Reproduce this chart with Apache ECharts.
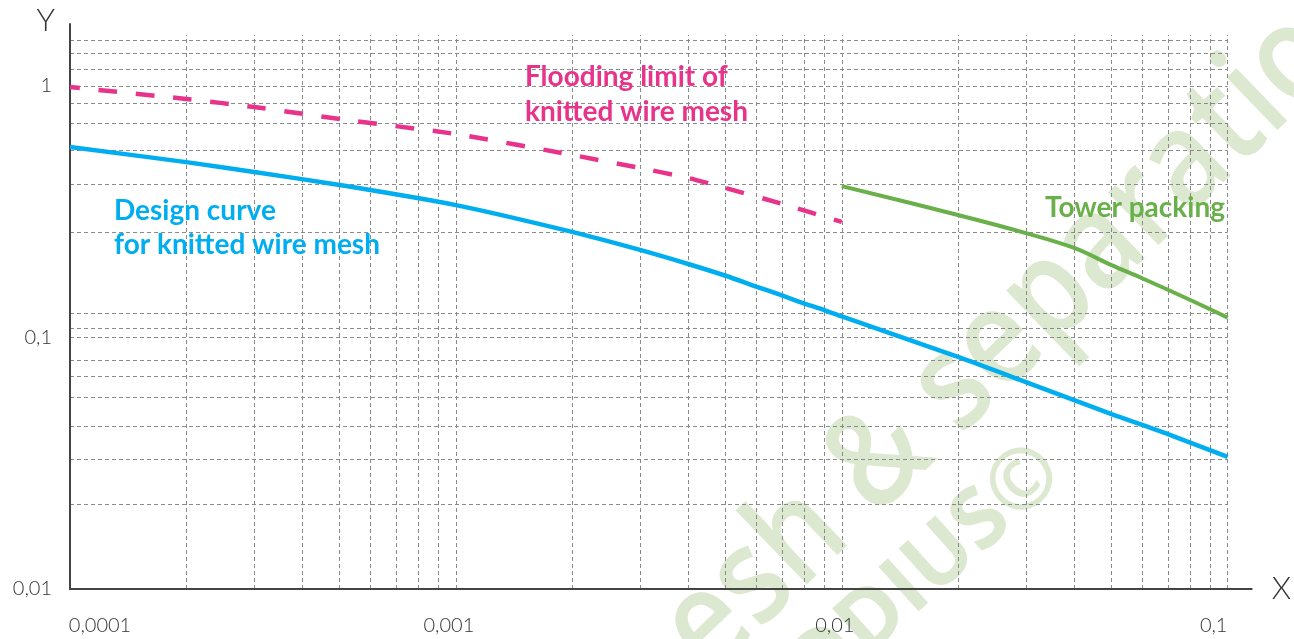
<!DOCTYPE html>
<html>
<head>
<meta charset="utf-8">
<script src="https://cdn.jsdelivr.net/npm/echarts@6/dist/echarts.min.js"></script>
<style>
html,body{margin:0;padding:0;background:#fff;}
#c{width:1294px;height:639px;}
</style>
</head>
<body>
<div id="c"></div>
<script>
// ---- Data (log-log) ----
const designX = [0.0001, 0.0002, 0.0003, 0.0005, 0.001, 0.002, 0.003, 0.004, 0.005, 0.006, 0.007, 0.008, 0.009, 0.01, 0.02, 0.03, 0.04, 0.05, 0.07, 0.1];
const designY = [0.572, 0.498, 0.455, 0.404, 0.336, 0.263, 0.223, 0.196, 0.176, 0.1595, 0.1469, 0.1365, 0.1286, 0.1212, 0.0837, 0.0665, 0.0564, 0.0496, 0.0413, 0.0335];

const floodX = [0.0001, 0.0002, 0.0003, 0.0005, 0.001, 0.002, 0.003, 0.004, 0.005, 0.007, 0.01];
const floodY = [0.99, 0.888, 0.825, 0.739, 0.644, 0.532, 0.472, 0.431, 0.393, 0.340, 0.288];

const towerX = [0.01, 0.02, 0.03, 0.04, 0.05, 0.06, 0.08, 0.1];
const towerY = [0.400, 0.307, 0.260, 0.227, 0.194, 0.172, 0.141, 0.120];

// axis ranges
const xMin = 0.0001, xMax = 0.1154, xGridEnd = 0.1;
const yMin = 0.01, yMax = 1.764, vGridTop = 1.595;

// grid lines (values)
const xGrid = [0.0002, 0.0003, 0.0004, 0.0005, 0.0006, 0.0007, 0.0008, 0.0009,
               0.001, 0.002, 0.003, 0.004, 0.005, 0.006, 0.007, 0.008, 0.009,
               0.01, 0.02, 0.03, 0.04, 0.05, 0.06, 0.07, 0.08, 0.09, 0.1];
const yGrid = [1.524, 1.353, 1.168, 1, 0.856, 0.713, 0.557, 0.408, 0.263,
               0.125, 0.109, 0.1, 0.0814, 0.0703, 0.058, 0.0445, 0.0329, 0.0218];

// annotation texts
const designLabel = 'Design curve\nfor knitted wire mesh';
const floodLabel = 'Flooding limit of\nknitted wire mesh';
const towerLabel = 'Tower packing';

const BLUE = '#00aeef', PINK = '#e8338b', GREEN = '#6ab04a';
const WM = '#dce9d0';

function fmtVal(v) {
  const l = Math.log10(v);
  if (Math.abs(l - Math.round(l)) > 1e-6) return '';
  return String(Number(v.toPrecision(4))).replace('.', ',');
}
function pairs(xs, ys) { return xs.map((x, i) => [x, ys[i]]); }

const gridLines = [];
xGrid.forEach(x => gridLines.push([{coord: [x, yMin]}, {coord: [x, vGridTop]}]));
yGrid.forEach(y => gridLines.push([{coord: [xMin, y]}, {coord: [xGridEnd, y]}]));

const labelFont = 'Lato, "Open Sans", sans-serif';
const richBase = {fontSize: 20, color: '#333', fontFamily: labelFont, fontWeight: 300};

const chart = echarts.init(document.getElementById('c'), null, {renderer: 'canvas'});
chart.setOption({
  animation: false,
  backgroundColor: '#fff',
  grid: {left: 70, right: 41, top: 24, bottom: 50},
  xAxis: {
    type: 'log', logBase: 10, min: xMin, max: xMax, z: 3,
    axisLine: {show: true, lineStyle: {color: '#444', width: 2}},
    axisTick: {show: false},
    splitLine: {show: false},
    axisLabel: {
      margin: 27,
      formatter: v => {
        const s = fmtVal(v);
        if (!s) return '';
        if (Math.abs(v - xMin) / xMin < 1e-6) return '{first|' + s + '}';
        if (Math.abs(v - xGridEnd) / xGridEnd < 1e-6) return '{last|' + s + '}';
        return '{mid|' + s + '}';
      },
      rich: {
        first: Object.assign({padding: [0, 0, 0, 60]}, richBase),
        last: Object.assign({padding: [0, 28, 0, 0]}, richBase),
        mid: Object.assign({padding: [0, 14, 0, 0]}, richBase)
      }
    },
    name: 'X', nameLocation: 'end', nameGap: 20,
    nameTextStyle: {fontSize: 31, color: '#333', fontFamily: labelFont, fontWeight: 300, verticalAlign: 'middle', align: 'left'}
  },
  yAxis: {
    type: 'log', logBase: 10, min: yMin, max: yMax, z: 3,
    axisLine: {show: true, lineStyle: {color: '#444', width: 2}},
    axisTick: {show: false},
    splitLine: {show: false},
    axisLabel: {margin: 18, formatter: fmtVal, fontSize: 20, color: '#333', fontFamily: labelFont, fontWeight: 300},
    name: 'Y', nameLocation: 'end', nameGap: 3,
    nameTextStyle: {fontSize: 31, color: '#333', fontFamily: labelFont, fontWeight: 300, align: 'right', verticalAlign: 'middle', padding: [0, 15, 0, 0]}
  },
  graphic: [
    {type: 'text', z: 0, x: 603, y: 728, rotation: 0.768, scaleX: 0.87, scaleY: 1, silent: true,
     style: {text: 'mesh & separation', fill: WM, font: '600 135px "Open Sans", sans-serif', align: 'left', verticalAlign: 'middle'}},
    {type: 'text', z: 0, x: 712, y: 765, rotation: 0.733, silent: true,
     style: {text: 'RHODIUS©', fill: WM, font: 'bold 84px "Open Sans", sans-serif', align: 'left', verticalAlign: 'middle'}},
    {type: 'text', z: 10, x: 114, y: 194, silent: true,
     style: {text: designLabel, fill: BLUE, font: 'bold 28px Lato, sans-serif', lineHeight: 34, align: 'left', verticalAlign: 'top'}},
    {type: 'text', z: 10, x: 525, y: 59, silent: true,
     style: {text: floodLabel, fill: PINK, font: 'bold 28px Lato, sans-serif', lineHeight: 35, align: 'left', verticalAlign: 'top'}},
    {type: 'text', z: 10, x: 1045, y: 194, silent: true,
     style: {text: towerLabel, fill: GREEN, font: 'bold 28px Lato, sans-serif', align: 'left', verticalAlign: 'top'}}
  ],
  series: [
    {
      name: 'grid', type: 'line', data: [], silent: true, z: 1,
      markLine: {
        z: 1, silent: true, animation: false, symbol: 'none',
        label: {show: false},
        lineStyle: {color: '#8a8a8a', type: [4, 3], width: 1},
        emphasis: {disabled: true},
        data: gridLines
      }
    },
    {
      name: 'Design curve for knitted wire mesh', type: 'line', z: 5,
      data: pairs(designX, designY), smooth: 0.25, showSymbol: false,
      lineStyle: {color: BLUE, width: 4.5}
    },
    {
      name: 'Flooding limit of knitted wire mesh', type: 'line', z: 5,
      data: pairs(floodX, floodY), smooth: 0.2, showSymbol: false,
      lineStyle: {color: PINK, width: 4.5, type: [18.7, 18.7], dashOffset: 8.7}
    },
    {
      name: 'Tower packing', type: 'line', z: 5,
      data: pairs(towerX, towerY), smooth: 0.35, showSymbol: false,
      lineStyle: {color: GREEN, width: 4}
    }
  ]
});
</script>
</body>
</html>
